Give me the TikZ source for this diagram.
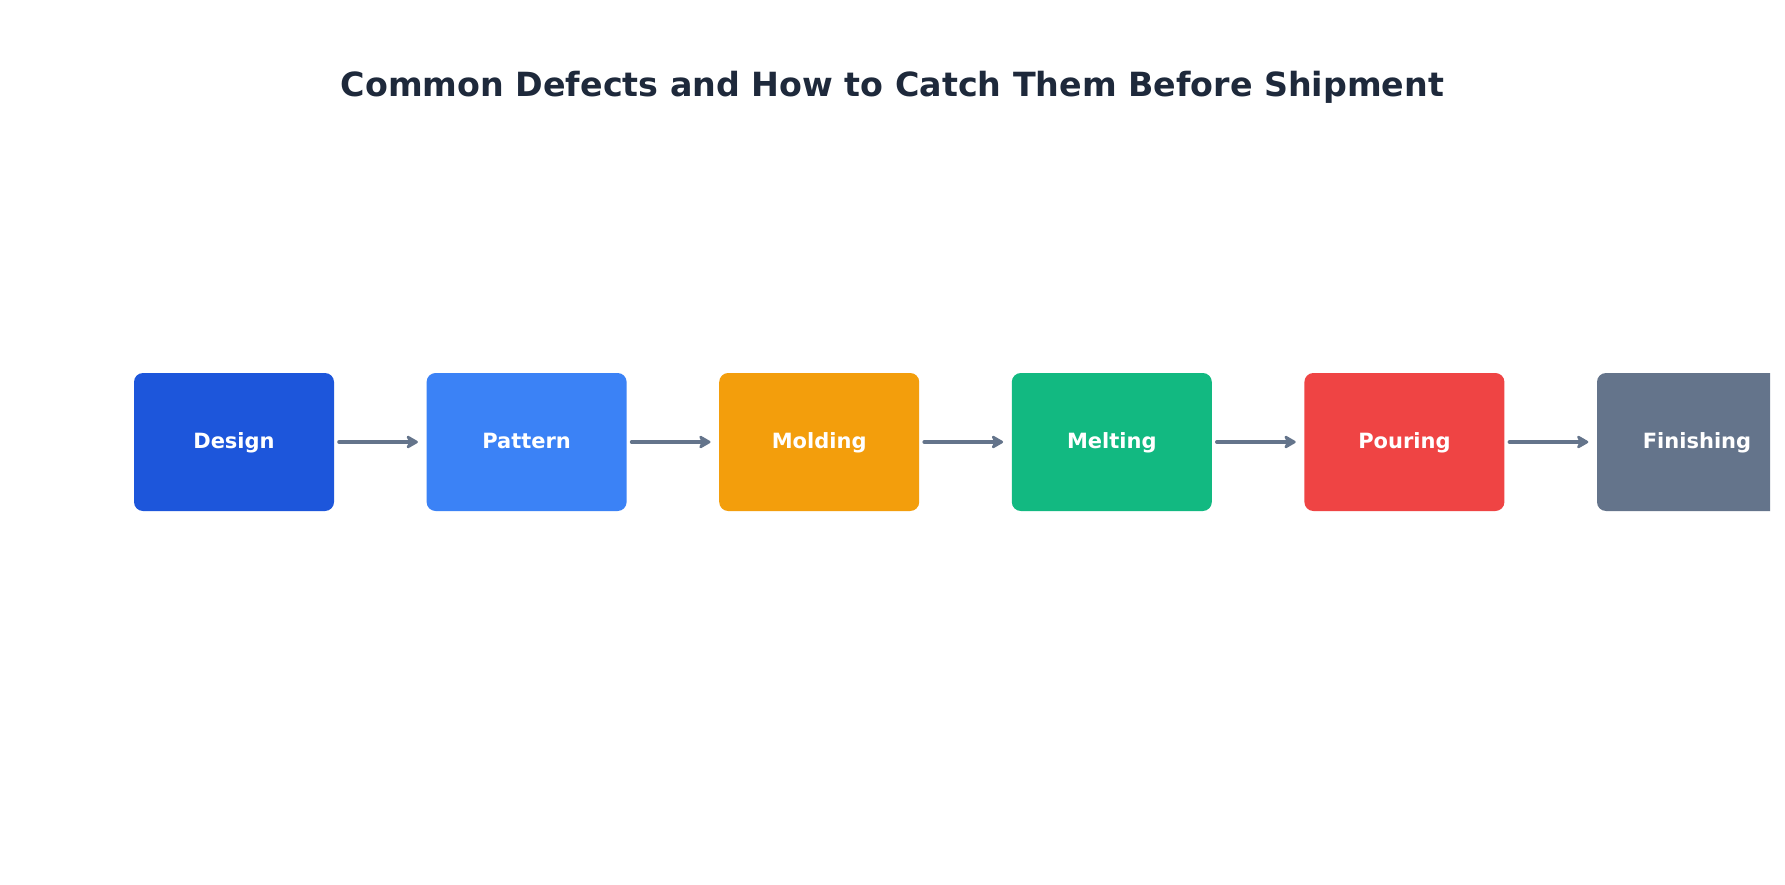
\documentclass[tikz,border=0pt]{standalone}
\usepackage{fontspec}
\setmainfont{DejaVu Sans}
\usetikzlibrary{arrows.meta}
\definecolor{cDesign}{HTML}{1D56DB}
\definecolor{cPattern}{HTML}{3B82F6}
\definecolor{cMolding}{HTML}{F39E0C}
\definecolor{cMelting}{HTML}{12B981}
\definecolor{cPouring}{HTML}{EF4444}
\definecolor{cFinish}{HTML}{64748B}
\definecolor{cArrow}{HTML}{64748B}
\definecolor{cTitle}{HTML}{1E293B}
\tikzset{
  stagebox/.style={draw=none, fill=#1, rounded corners=9pt, minimum width=200pt, minimum height=138pt,
    inner sep=0pt, text=white, font=\fontsize{21}{25}\selectfont\bfseries, text height=12pt, text depth=0pt},
  flowarrow/.style={draw=cArrow, line width=4pt, line cap=round,
    -{Stealth[length=14pt,width=16pt,inset=4pt,round]}, shorten <=5pt, shorten >=8.5pt},
  titletext/.style={text=cTitle, font=\fontsize{33.3}{40}\selectfont\bfseries, inner sep=0pt}
}
\begin{document}
\begin{tikzpicture}[x=1pt,y=-1pt]
\useasboundingbox (0,0) rectangle (1785,885);
\fill[white] (0,0) rectangle (1785,885);
\node[titletext, anchor=base] (title) at (892.5,96.5) {Common Defects and How to Catch Them Before Shipment};
\begin{scope}
\clip (0,0) rectangle (1770,885);
\node[stagebox=cDesign]  (design)  at (234,442)    {Design};
\node[stagebox=cPattern] (pattern) at (526.6,442)  {Pattern};
\node[stagebox=cMolding] (molding) at (819.2,442)  {Molding};
\node[stagebox=cMelting] (melting) at (1111.8,442) {Melting};
\node[stagebox=cPouring] (pouring) at (1404.4,442) {Pouring};
\node[stagebox=cFinish]  (finish)  at (1697,442)   {Finishing};
\end{scope}
\draw[flowarrow] (design.east) -- (pattern.west);
\draw[flowarrow] (pattern.east) -- (molding.west);
\draw[flowarrow] (molding.east) -- (melting.west);
\draw[flowarrow] (melting.east) -- (pouring.west);
\draw[flowarrow] (pouring.east) -- (finish.west);
\end{tikzpicture}
\end{document}
